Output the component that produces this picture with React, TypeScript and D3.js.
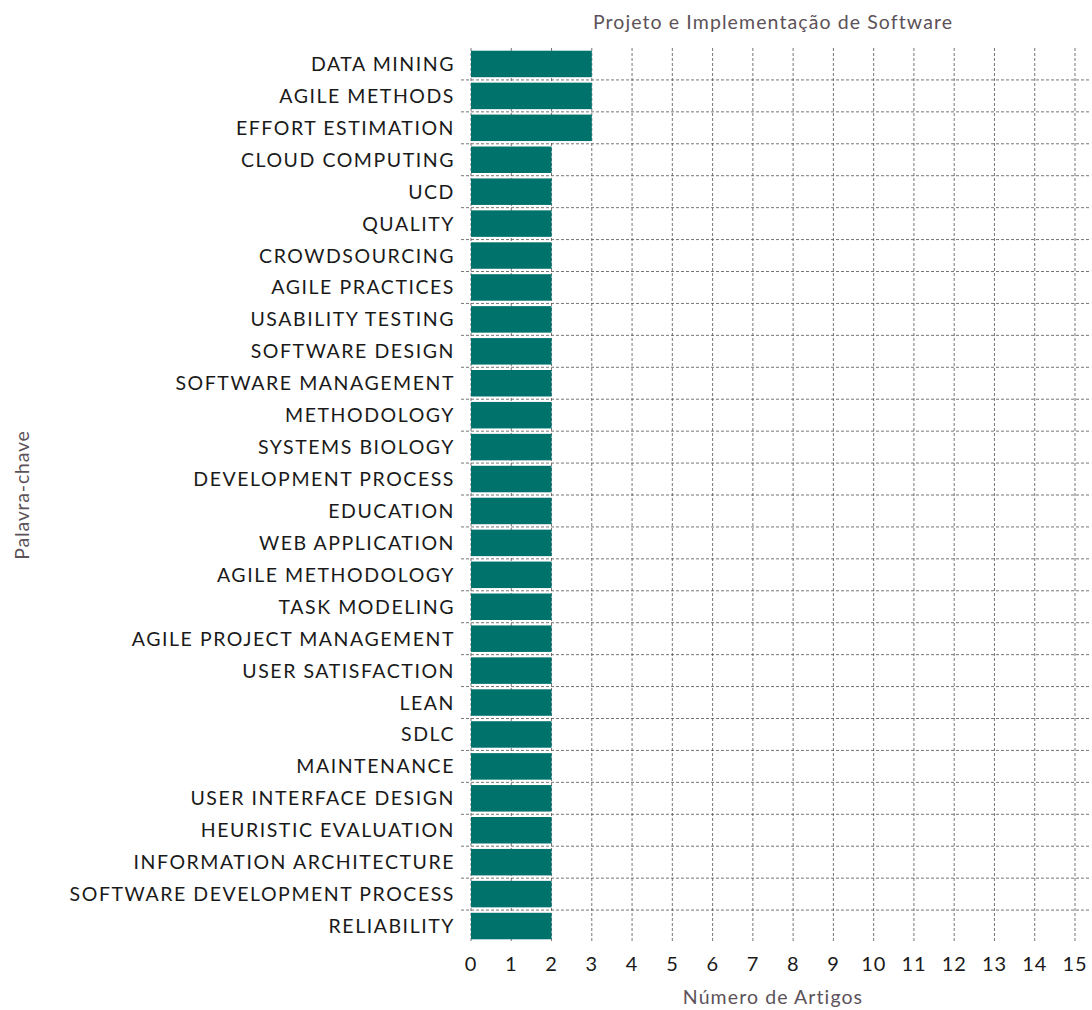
import React from "react";
import * as d3 from "d3";

const keywords = [
  "DATA MINING",
  "AGILE METHODS",
  "EFFORT ESTIMATION",
  "CLOUD COMPUTING",
  "UCD",
  "QUALITY",
  "CROWDSOURCING",
  "AGILE PRACTICES",
  "USABILITY TESTING",
  "SOFTWARE DESIGN",
  "SOFTWARE MANAGEMENT",
  "METHODOLOGY",
  "SYSTEMS BIOLOGY",
  "DEVELOPMENT PROCESS",
  "EDUCATION",
  "WEB APPLICATION",
  "AGILE METHODOLOGY",
  "TASK MODELING",
  "AGILE PROJECT MANAGEMENT",
  "USER SATISFACTION",
  "LEAN",
  "SDLC",
  "MAINTENANCE",
  "USER INTERFACE DESIGN",
  "HEURISTIC EVALUATION",
  "INFORMATION ARCHITECTURE",
  "SOFTWARE DEVELOPMENT PROCESS",
  "RELIABILITY",
];
const counts = [3, 3, 3, 2, 2, 2, 2, 2, 2, 2, 2, 2, 2, 2, 2, 2, 2, 2, 2, 2, 2, 2, 2, 2, 2, 2, 2, 2];
const xTicks = [0, 1, 2, 3, 4, 5, 6, 7, 8, 9, 10, 11, 12, 13, 14, 15];

const W = 1092;
const H = 1010;
const M = { left: 471, right: 17, top: 48, bottom: 68 };
const FONT = "Lato, 'Noto Sans', sans-serif";

export default function App() {
  const x = d3.scaleLinear().domain([0, 15]).range([M.left, W - M.right]);
  const y = d3
    .scaleBand<string>()
    .domain(keywords)
    .range([M.top, H - M.bottom])
    .paddingInner(0.17)
    .paddingOuter(0.085);
  const step = y.step();
  const boundaries = d3.range(keywords.length + 1).map((i) => M.top + i * step);
  const gridColor = "#555";
  return (
    <svg
      width={W}
      height={H}
      style={{ position: "absolute", left: 0, top: 0, background: "#fff" }}
      fontFamily={FONT}
    >
      {/* grid */}
      {xTicks.map((t) => (
        <line
          key={"v" + t}
          x1={x(t)}
          x2={x(t)}
          y1={M.top}
          y2={H - M.bottom}
          stroke={gridColor}
          strokeWidth={1}
          strokeDasharray="3,2"
          opacity={0.8}
        />
      ))}
      {boundaries.slice(1, -1).map((b, i) => (
        <line
          key={"h" + i}
          x1={M.left - 10}
          x2={W - 2}
          y1={b}
          y2={b}
          stroke={gridColor}
          strokeWidth={1}
          strokeDasharray="3,2"
          opacity={0.8}
        />
      ))}
      {/* bars */}
      {keywords.map((k, i) => (
        <rect
          key={k}
          x={x(0)}
          y={y(k)}
          width={x(counts[i]) - x(0)}
          height={y.bandwidth()}
          fill="#00726c"
        />
      ))}
      {/* y labels */}
      {keywords.map((k) => (
        <text
          key={"l" + k}
          x={M.left - 16}
          y={(y(k) as number) + y.bandwidth() / 2}
          dy="0.36em"
          textAnchor="end"
          fontSize={19.5}
          letterSpacing={1.55}
          fill="#1a1a1a"
        >
          {k}
        </text>
      ))}
      {/* x tick labels */}
      {xTicks.map((t) => (
        <text
          key={"t" + t}
          x={x(t)}
          y={971}
          textAnchor="middle"
          fontSize={20}
          letterSpacing={0.8}
          fill="#1a1a1a"
        >
          {t}
        </text>
      ))}
      <text
        x={(x(0) + x(15)) / 2}
        y={29}
        textAnchor="middle"
        fontSize={19.5}
        letterSpacing={1.1}
        fill="#5c5259"
      >
        Projeto e Implementação de Software
      </text>
      <text
        x={(x(0) + x(15)) / 2}
        y={1004}
        textAnchor="middle"
        fontSize={19.5}
        letterSpacing={1.1}
        fill="#5c5259"
      >
        Número de Artigos
      </text>
      <text
        transform={`translate(29, ${(M.top + H - M.bottom) / 2}) rotate(-90)`}
        textAnchor="middle"
        fontSize={19.5}
        letterSpacing={0.8}
        fill="#5c5259"
      >
        Palavra-chave
      </text>
    </svg>
  );
}
